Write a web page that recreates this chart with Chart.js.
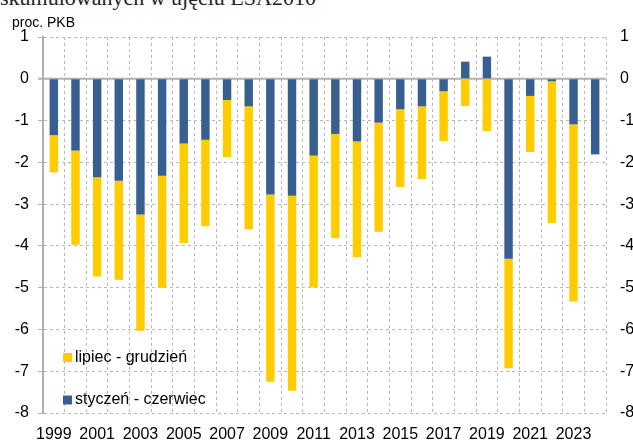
<!DOCTYPE html>
<html>
<head>
<meta charset="utf-8">
<script src="https://cdn.jsdelivr.net/npm/chart.js@4/dist/chart.umd.min.js"></script>
<style>
  html, body { margin: 0; padding: 0; background: #fff; overflow: hidden; }
  #wrap { position: relative; width: 633px; height: 441px; }
  #title { position: absolute; left: 0; top: -13px; font: 22px 'Liberation Serif', serif; color: #222; white-space: nowrap; line-height: 22px; }
  canvas { position: absolute; left: 0; top: 0; }
</style>
</head>
<body>
<div id="wrap">
  <div id="title">skumulowanych w ujęciu ESA2010</div>
  <canvas id="c" width="633" height="441"></canvas>
</div>
<script>
const years = ['1999','2000','2001','2002','2003','2004','2005','2006','2007','2008','2009','2010','2011','2012','2013','2014','2015','2016','2017','2018','2019','2020','2021','2022','2023','2024'];
const styczenCzerwiec = [-1.35,-1.72,-2.36,-2.44,-3.25,-2.32,-1.55,-1.46,-0.51,-0.66,-2.77,-2.80,-1.84,-1.32,-1.50,-1.05,-0.73,-0.66,-0.30,0.41,0.53,-4.31,-0.41,-0.06,-1.09,-1.81];
const lipiecGrudzien = [-0.89,-2.25,-2.37,-2.37,-2.78,-2.68,-2.38,-2.07,-1.36,-2.94,-4.48,-4.67,-3.15,-2.49,-2.77,-2.61,-1.86,-1.74,-1.19,-0.65,-1.25,-2.62,-1.34,-3.39,-4.24,null];
const yTicks = [1,0,-1,-2,-3,-4,-5,-6,-7,-8];
const unitLabel = 'proc. PKB';
const seriesNames = ['styczeń - czerwiec', 'lipiec - grudzień'];

const BLUE = '#375f8f';
const YELLOW = '#ffcc00';
const GRID = '#b8b8b8';
const FONT = "'Liberation Sans', Arial, sans-serif";

const extras = {
  id: 'extras',
  beforeDatasetsDraw(chart) {
    const {ctx, chartArea: a, scales: {y}} = chart;
    const y0 = y.getPixelForValue(0);
    ctx.save();
    ctx.strokeStyle = '#b0b0b0';
    ctx.lineWidth = 2;
    ctx.beginPath();
    ctx.moveTo(a.left - 5, y0);
    ctx.lineTo(a.right, y0);
    ctx.stroke();
    ctx.restore();
  },
  afterDraw(chart) {
    const {ctx} = chart;
    ctx.save();
    ctx.fillStyle = '#000';
    ctx.font = '14px ' + FONT;
    ctx.textBaseline = 'alphabetic';
    ctx.textAlign = 'left';
    ctx.fillText(unitLabel, 12, 27);
    const items = [
      {label: seriesNames[1], color: YELLOW, y: 357.5},
      {label: seriesNames[0], color: BLUE, y: 400}
    ];
    ctx.font = '16px ' + FONT;
    ctx.textBaseline = 'middle';
    items.forEach(it => {
      ctx.fillStyle = it.color;
      ctx.fillRect(63, it.y - 4.5, 9, 9);
      ctx.fillStyle = '#000';
      ctx.fillText(it.label, 75, it.y);
    });
    ctx.restore();
  }
};

new Chart(document.getElementById('c'), {
  type: 'bar',
  data: {
    labels: years,
    datasets: [
      {label: seriesNames[0], data: styczenCzerwiec, backgroundColor: BLUE, barPercentage: 0.39, categoryPercentage: 1.0, stack: 's'},
      {label: seriesNames[1], data: lipiecGrudzien, backgroundColor: YELLOW, barPercentage: 0.39, categoryPercentage: 1.0, stack: 's'}
    ]
  },
  options: {
    responsive: false,
    animation: false,
    layout: { padding: { top: 37, left: 0, right: 0, bottom: 0 } },
    plugins: { legend: { display: false }, title: { display: false }, tooltip: { enabled: false } },
    scales: {
      x: {
        stacked: true,
        grid: { display: true, offset: true, color: GRID, lineWidth: 1, drawTicks: false },
        border: { display: false, dash: [3, 3] },
        ticks: {
          autoSkip: false, maxRotation: 0, minRotation: 0, padding: 12,
          color: '#000', font: { family: FONT, size: 16 },
          callback: function(v, i) { return i % 2 === 0 ? years[i] : ''; }
        },
        afterFit(s) { s.height = 28; }
      },
      y: {
        stacked: true,
        position: 'left',
        min: -8, max: 1,
        afterBuildTicks(s) { s.ticks = yTicks.map(v => ({value: v})); },
        grid: { color: GRID, lineWidth: 1, drawTicks: true, tickLength: 5, tickColor: '#b0b0b0' },
        border: { display: true, color: '#b0b0b0', width: 2, dash: [3, 3] },
        ticks: { padding: 9, color: '#000', font: { family: FONT, size: 16 } },
        afterFit(s) { s.width = 43; }
      },
      y2: {
        position: 'right',
        min: -8, max: 1,
        afterBuildTicks(s) { s.ticks = yTicks.map(v => ({value: v})); },
        grid: { drawOnChartArea: false, drawTicks: false },
        border: { display: false },
        ticks: { padding: 14, color: '#000', font: { family: FONT, size: 16 } },
        afterFit(s) { s.width = 27; }
      }
    }
  },
  plugins: [extras]
});
</script>
</body>
</html>
